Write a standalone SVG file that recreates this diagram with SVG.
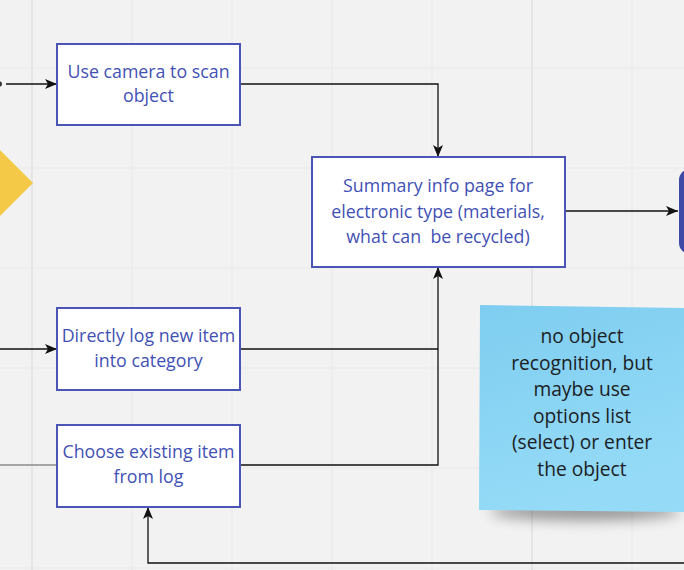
<svg xmlns="http://www.w3.org/2000/svg" width="684" height="570" viewBox="0 0 684 570">
<defs>
<marker id="arr" viewBox="0 0 12 10" refX="12" refY="5" markerWidth="12" markerHeight="10" markerUnits="userSpaceOnUse" orient="auto">
<path d="M0,0 L12,5 L0,10 L3,5 Z" fill="#111"/>
</marker>
<linearGradient id="sticky" x1="0" y1="0" x2="0.3" y2="1">
<stop offset="0" stop-color="#7ecdf0"/>
<stop offset="1" stop-color="#95dbf7"/>
</linearGradient>
<filter id="shadow" x="-30%" y="-100%" width="160%" height="300%">
<feGaussianBlur stdDeviation="7"/>
</filter>
<style>
.grid{stroke:#e9e9e9;stroke-width:1.2}
.gridb{stroke:#e4e4e4;stroke-width:1.8}
.box{fill:#fff;stroke:#4b55b6;stroke-width:2}
.bt{font-family:"Open Sans","Noto Sans",sans-serif;font-size:17.8px;fill:#4251b4;text-anchor:middle}
.st{font-family:"Open Sans","Noto Sans",sans-serif;font-size:19.2px;fill:#1c2024;text-anchor:middle}
.c{fill:none;stroke:#111;stroke-width:1.3}
</style>
</defs>
<rect width="684" height="570" fill="#f2f2f2"/>
<g id="grid">
<line class="gridb" x1="32" y1="0" x2="32" y2="570"/>
<line class="grid" x1="132" y1="0" x2="132" y2="570"/>
<line class="grid" x1="232" y1="0" x2="232" y2="570"/>
<line class="grid" x1="332" y1="0" x2="332" y2="570"/>
<line class="grid" x1="432" y1="0" x2="432" y2="570"/>
<line class="gridb" x1="532" y1="0" x2="532" y2="570"/>
<line class="grid" x1="632" y1="0" x2="632" y2="570"/>
<line class="grid" x1="0" y1="68" x2="684" y2="68"/>
<line class="grid" x1="0" y1="168" x2="684" y2="168"/>
<line class="grid" x1="0" y1="268" x2="684" y2="268"/>
<line class="grid" x1="0" y1="368" x2="684" y2="368"/>
<line class="grid" x1="0" y1="468" x2="684" y2="468"/>
<line class="grid" x1="0" y1="568" x2="684" y2="568"/>
</g>
<g id="decision">
<polygon points="-2,148 33,183 -2,218 -37,183" fill="#f4c947"/>
</g>
<g id="end-node">
<rect x="679" y="169" width="30" height="85" rx="11" fill="#3e4aa6"/>
</g>
<g id="sticky-note">
<ellipse cx="585" cy="511" rx="95" ry="9" fill="#000" opacity="0.4" filter="url(#shadow)"/>
<polygon points="480,305 686,308 686,512 479,510" fill="url(#sticky)"/>
<text class="st" x="582" y="343">no object</text>
<text class="st" x="582" y="369.5">recognition, but</text>
<text class="st" x="582" y="396">maybe use</text>
<text class="st" x="582" y="422.5">options list</text>
<text class="st" x="582" y="449">(select) or enter</text>
<text class="st" x="582" y="475.5">the object</text>
</g>
<g id="connectors">
<path d="M0,82 A2.5,2.5 0 0 1 0,86" fill="none" stroke="#333" stroke-width="2"/>
<line class="c" x1="6" y1="84" x2="57" y2="84" marker-end="url(#arr)"/>
<line class="c" x1="0" y1="349" x2="57" y2="349" marker-end="url(#arr)"/>
<line x1="0" y1="465" x2="57" y2="465" stroke="#8a8a8a" stroke-width="1.3"/>
<path class="c" d="M240,84 H438 V157" marker-end="url(#arr)"/>
<path class="c" d="M240,349 H438"/>
<path class="c" d="M240,465 H438 V267" marker-end="url(#arr)"/>
<line class="c" x1="565" y1="211" x2="678" y2="211" marker-end="url(#arr)"/>
<path class="c" d="M684,563 H148 V507" marker-end="url(#arr)"/>
</g>
<g id="camera">
<rect class="box" x="57" y="44" width="183" height="81"/>
<text class="bt" x="148.5" y="78">Use camera to scan</text>
<text class="bt" x="148.5" y="102">object</text>
</g>
<g id="summary">
<rect class="box" x="312" y="157" width="253" height="110"/>
<text class="bt" x="438" y="192">Summary info page for</text>
<text class="bt" x="438" y="218">electronic type (materials,</text>
<text class="bt" x="438" y="243" xml:space="preserve">what can  be recycled)</text>
</g>
<g id="directly-log">
<rect class="box" x="57" y="308" width="183" height="82"/>
<text class="bt" x="148.5" y="342">Directly log new item</text>
<text class="bt" x="148.5" y="367">into category</text>
</g>
<g id="choose-existing">
<rect class="box" x="57" y="425" width="183" height="82"/>
<text class="bt" x="148.5" y="458">Choose existing item</text>
<text class="bt" x="148.5" y="483">from log</text>
</g>
</svg>
